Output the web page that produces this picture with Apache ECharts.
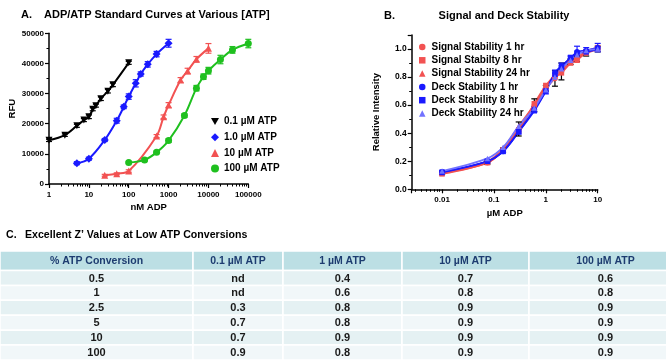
<!DOCTYPE html>
<html>
<head>
<meta charset="utf-8">
<script src="https://cdn.jsdelivr.net/npm/echarts@6/dist/echarts.min.js"></script>
<style>
  html, body { margin: 0; padding: 0; background: #fff; }
  #chart { width: 666px; height: 360px; }
</style>
</head>
<body>
<div id="chart"></div>
<script>
// ---- Panel A: ADP/ATP standard curves (nM ADP vs RFU)
const adp01 = [1, 2.5, 5, 7.5, 10, 12.5, 15, 20, 30, 40, 100];
const rfu01 = [14500, 16200, 19300, 21200, 22300, 24800, 26000, 28300, 30800, 32900, 40200];
const err01 = [400, 400, 500, 500, 600, 500, 500, 600, 600, 600, 500];

const adp1 = [5, 10, 25, 50, 75, 100, 150, 200, 300, 500, 1000];
const rfu1 = [6900, 8400, 14600, 21000, 25600, 29000, 33400, 36500, 39700, 43100, 46700];
const err1 = [500, 500, 500, 800, 600, 900, 1200, 700, 900, 900, 1300];

const adp10 = [25, 50, 100, 500, 750, 1000, 2000, 3000, 5000, 10000];
const rfu10 = [2900, 3400, 4300, 15900, 22300, 26200, 34500, 37500, 41400, 45000];
const err10 = [300, 300, 400, 500, 600, 800, 800, 900, 900, 1600];

const adp100 = [100, 250, 500, 1000, 2500, 5000, 7500, 10000, 20000, 40000, 100000];
const rfu100 = [7100, 8000, 10500, 14400, 22700, 31800, 35600, 37600, 41300, 44500, 46600];
const err100 = [300, 400, 400, 600, 600, 900, 900, 1100, 1400, 1100, 1400];

// ---- Panel B: signal and deck stability (uM ADP vs relative intensity)
const adpB = [0.01, 0.075, 0.15, 0.3, 0.6, 1, 1.5, 2, 3, 4, 6, 10];
const sig1h = [0.115, 0.19, 0.28, 0.43, 0.60, 0.72, 0.79, 0.84, 0.91, 0.93, 0.97, 1.00];
const sig1hErr = [0.01, 0.01, 0.015, 0.05, 0.045, 0.02, 0.055, 0.06, 0.02, 0.02, 0.02, 0.02];
const sig8h = [0.11, 0.19, 0.28, 0.42, 0.61, 0.74, 0.81, 0.83, 0.90, 0.92, 0.98, 1.01];
const sig24h = [0.12, 0.20, 0.29, 0.45, 0.60, 0.72, 0.82, 0.85, 0.91, 0.94, 0.98, 1.00];
const deck1h = [0.125, 0.20, 0.27, 0.41, 0.57, 0.70, 0.83, 0.88, 0.93, 0.98, 0.99, 1.01];
const deck1hErr = [0.01, 0.01, 0.01, 0.015, 0.02, 0.02, 0.02, 0.02, 0.02, 0.04, 0.02, 0.03];
const deck8h = [0.12, 0.20, 0.27, 0.41, 0.56, 0.70, 0.82, 0.87, 0.94, 0.97, 0.98, 1.00];
const deck24h = [0.13, 0.22, 0.30, 0.45, 0.58, 0.71, 0.80, 0.86, 0.92, 0.96, 0.99, 1.00];

// ---- Panel C: Z' table
const tableHead = ['% ATP Conversion', '0.1 \u00b5M ATP', '1 \u00b5M ATP', '10 \u00b5M ATP', '100 \u00b5M ATP'];
const conversions = ['0.5', '1', '2.5', '5', '10', '100'];
const zAtp01 = ['nd', 'nd', '0.3', '0.7', '0.7', '0.9'];
const zAtp1 = ['0.4', '0.6', '0.8', '0.8', '0.9', '0.8'];
const zAtp10 = ['0.7', '0.8', '0.9', '0.9', '0.9', '0.9'];
const zAtp100 = ['0.6', '0.8', '0.9', '0.9', '0.9', '0.9'];

const FONT = '"Liberation Sans", Arial, sans-serif';
const colEdges = [0, 193, 283, 402, 529, 682]; // table column borders (px)
const headTop = -1.31; // header height in row units

const zip = (xs, ys, es) => xs.map((x, i) => es ? [x, ys[i], es[i]] : [x, ys[i]]);

function errorBars(idx, xs, ys, es, color) {
    return {
        type: 'custom', xAxisIndex: idx, yAxisIndex: idx, silent: true, z: 3,
        data: zip(xs, ys, es),
        renderItem: (params, api) => {
            const x = api.value(0), y = api.value(1), e = api.value(2);
            const hi = api.coord([x, y + e]);
            const lo = api.coord([x, y - e]);
            const st = {stroke: color, lineWidth: 1.2};
            return {
                type: 'group', children: [
                    {type: 'line', shape: {x1: hi[0], y1: hi[1], x2: lo[0], y2: lo[1]}, style: st},
                    {type: 'line', shape: {x1: hi[0] - 3, y1: hi[1], x2: hi[0] + 3, y2: hi[1]}, style: st},
                    {type: 'line', shape: {x1: lo[0] - 3, y1: lo[1], x2: lo[0] + 3, y2: lo[1]}, style: st}
                ]
            };
        }
    };
}

function fitLine(idx, xs, ys, color, width) {
    return {
        type: 'line', xAxisIndex: idx, yAxisIndex: idx, data: zip(xs, ys),
        smooth: 0.35, showSymbol: false, silent: true, z: 2,
        lineStyle: {color: color, width: width || 2}
    };
}

function points(idx, name, xs, ys, symbol, size, color, rotate) {
    return {
        type: 'scatter', name: name, xAxisIndex: idx, yAxisIndex: idx, data: zip(xs, ys),
        symbol: symbol, symbolSize: size, symbolRotate: rotate || 0, z: 4,
        itemStyle: {color: color, opacity: 1}
    };
}

const axisBase = {
    axisLine: {lineStyle: {color: '#000', width: 1.5}},
    axisTick: {length: 4, lineStyle: {color: '#000', width: 1.2}},
    minorTick: {show: true, length: 2.5, lineStyle: {color: '#000', width: 1}},
    splitLine: {show: false},
    minorSplitLine: {show: false},
    axisLabel: {color: '#000', fontFamily: FONT, fontWeight: 'bold', fontSize: 8},
    nameTextStyle: {color: '#000', fontFamily: FONT, fontWeight: 'bold', fontSize: 9.5}
};
const logLabel = v => String(parseFloat(Number(v).toPrecision(6)));

const titleStyle = {color: '#000', fontFamily: FONT, fontWeight: 'bold', fontSize: 11};
const titleC = {color: '#000', fontFamily: FONT, fontWeight: 'bold', fontSize: 10.6};
const legendText = {color: '#000', fontFamily: FONT, fontWeight: 'bold', fontSize: 10, lineHeight: 12};

const RED = '#f25252', BLUE = '#1a1aff', LBLUE = '#7272ff', GREEN = '#1fc01f';

// table cells: [col, row]; row -1 is the header
const tableCols = [conversions, zAtp01, zAtp1, zAtp10, zAtp100];
const cellData = [];
const cellText = [];
tableHead.forEach((t, c) => { cellData.push([c, -1]); cellText.push(t); });
conversions.forEach((_, r) => {
    tableCols.forEach((col, c) => { cellData.push([c, r]); cellText.push(col[r]); });
});

const chart = echarts.init(document.getElementById('chart'));
chart.setOption({
    animation: false,
    backgroundColor: '#fff',
    title: [
        {text: 'A.', left: 21, top: 9, padding: 0, textStyle: titleStyle},
        {text: 'ADP/ATP Standard Curves at Various [ATP]', left: 44, top: 9, padding: 0, textStyle: titleStyle},
        {text: 'B.', left: 384, top: 10, padding: 0, textStyle: titleStyle},
        {text: 'Signal and Deck Stability', left: 504, textAlign: 'center', top: 10, padding: 0, textStyle: titleStyle},
        {text: 'C.', left: 6, top: 229.5, padding: 0, textStyle: titleC},
        {text: 'Excellent Z\u2019 Values at Low ATP Conversions', left: 25, top: 229.5, padding: 0, textStyle: titleC}
    ],
    legend: [
        {
            left: 206, top: 110.5, orient: 'vertical', itemGap: 3.7, itemWidth: 8, itemHeight: 8,
            textStyle: legendText,
            data: [
                {name: '0.1 \u00b5M ATP', icon: 'path://M0,0L10,0L5,9Z'},
                {name: '1.0 \u00b5M ATP', icon: 'diamond'},
                {name: '10 \u00b5M ATP', icon: 'triangle'},
                {name: '100 \u00b5M ATP', icon: 'circle'}
            ]
        },
        {
            left: 414, top: 36, orient: 'vertical', itemGap: 1.3, itemWidth: 6.5, itemHeight: 6.5,
            textStyle: Object.assign({padding: [0, 0, 0, 1]}, legendText),
            data: ['Signal Stability 1 hr', 'Signal Stabilty 8 hr', 'Signal Stability 24 hr',
                'Deck Stability 1 hr', 'Deck Stability 8 hr', 'Deck Stability 24 hr']
        }
    ],
    grid: [
        {left: 49, top: 33.3, width: 199.3, height: 150.7},
        {left: 411.7, top: 35, width: 186, height: 154.3},
        {left: 0, top: 251, width: 666, height: 113.2}
    ],
    xAxis: [
        Object.assign({}, axisBase, {
            type: 'log', gridIndex: 0, logBase: 10, min: 1, max: 100000,
            name: 'nM ADP', nameLocation: 'middle', nameGap: 18,
            minorTick: Object.assign({}, axisBase.minorTick, {splitNumber: 9}),
            axisLabel: Object.assign({}, axisBase.axisLabel, {margin: 7, formatter: logLabel})
        }),
        Object.assign({}, axisBase, {
            type: 'log', gridIndex: 1, logBase: 10, min: 0.0026, max: 10,
            name: '\u00b5M ADP', nameLocation: 'middle', nameGap: 19,
            minorTick: Object.assign({}, axisBase.minorTick, {splitNumber: 9}),
            axisLabel: Object.assign({}, axisBase.axisLabel, {margin: 6, showMinLabel: false, formatter: logLabel})
        }),
        {type: 'value', gridIndex: 2, min: 0, max: 666, show: false}
    ],
    yAxis: [
        Object.assign({}, axisBase, {
            type: 'value', gridIndex: 0, min: 0, max: 50000, interval: 10000,
            name: 'RFU', nameLocation: 'middle', nameGap: 31,
            minorTick: Object.assign({}, axisBase.minorTick, {splitNumber: 2}),
            axisLabel: Object.assign({}, axisBase.axisLabel, {margin: 5, formatter: v => String(v)})
        }),
        Object.assign({}, axisBase, {
            type: 'value', gridIndex: 1, min: 0, max: 1.1, interval: 0.2,
            name: 'Relative Intensity', nameLocation: 'middle', nameGap: 30,
            minorTick: Object.assign({}, axisBase.minorTick, {splitNumber: 2}),
            axisLabel: Object.assign({}, axisBase.axisLabel, {
                margin: 5, showMaxLabel: false, fontSize: 8.5, formatter: v => v.toFixed(1)
            })
        }),
        {type: 'value', gridIndex: 2, min: headTop, max: 6, inverse: true, show: false}
    ],
    series: [
        // panel A
        fitLine(0, adp01, rfu01, '#000'),
        fitLine(0, adp1, rfu1, BLUE),
        fitLine(0, adp10, rfu10, RED),
        fitLine(0, adp100, rfu100, GREEN),
        errorBars(0, adp01, rfu01, err01, '#000'),
        errorBars(0, adp1, rfu1, err1, BLUE),
        errorBars(0, adp10, rfu10, err10, RED),
        errorBars(0, adp100, rfu100, err100, GREEN),
        points(0, '0.1 \u00b5M ATP', adp01, rfu01, 'triangle', 7, '#000', 180),
        points(0, '1.0 \u00b5M ATP', adp1, rfu1, 'diamond', 8, BLUE),
        points(0, '10 \u00b5M ATP', adp10, rfu10, 'triangle', 7, RED),
        points(0, '100 \u00b5M ATP', adp100, rfu100, 'circle', 7, GREEN),
        // panel B
        fitLine(1, adpB, sig1h, RED, 1.8),
        fitLine(1, adpB, sig8h, RED, 1.8),
        fitLine(1, adpB, sig24h, RED, 1.8),
        fitLine(1, adpB, deck1h, BLUE, 1.8),
        fitLine(1, adpB, deck8h, BLUE, 1.8),
        fitLine(1, adpB, deck24h, LBLUE, 1.8),
        errorBars(1, adpB, sig1h, sig1hErr, '#000'),
        errorBars(1, adpB, deck1h, deck1hErr, BLUE),
        points(1, 'Signal Stability 1 hr', adpB, sig1h, 'circle', 5.5, RED),
        points(1, 'Signal Stabilty 8 hr', adpB, sig8h, 'rect', 5.5, RED),
        points(1, 'Signal Stability 24 hr', adpB, sig24h, 'triangle', 5.5, RED),
        points(1, 'Deck Stability 1 hr', adpB, deck1h, 'circle', 5.5, BLUE),
        points(1, 'Deck Stability 8 hr', adpB, deck8h, 'rect', 5.5, BLUE),
        points(1, 'Deck Stability 24 hr', adpB, deck24h, 'triangle', 5.5, LBLUE),
        // panel C table
        {
            type: 'custom', xAxisIndex: 2, yAxisIndex: 2, silent: true,
            data: cellData,
            renderItem: (params, api) => {
                const c = api.value(0), r = api.value(1);
                const x0 = api.coord([colEdges[c], 0])[0];
                const x1 = api.coord([colEdges[c + 1], 0])[0];
                const y0 = api.coord([0, r < 0 ? headTop : r])[1];
                const y1 = api.coord([0, r < 0 ? 0 : r + 1])[1];
                const head = r < 0;
                const fill = head ? '#bcdfe4' : (r % 2 === 0 ? '#e5f1f3' : '#f1f7f9');
                return {
                    type: 'group', children: [
                        {
                            type: 'rect', shape: {x: x0, y: y0, width: x1 - x0, height: y1 - y0},
                            style: {fill: fill, stroke: '#fff', lineWidth: 1.5}
                        },
                        {
                            type: 'text', x: (x0 + x1) / 2, y: (y0 + y1) / 2 + 0.5,
                            style: {
                                text: cellText[params.dataIndex], align: 'center', verticalAlign: 'middle',
                                fill: head ? '#1d3c70' : '#1a1a1a', fontFamily: FONT, fontWeight: 'bold',
                                fontSize: head ? 10.5 : 11
                            }
                        }
                    ]
                };
            }
        }
    ]
});
</script>
</body>
</html>
